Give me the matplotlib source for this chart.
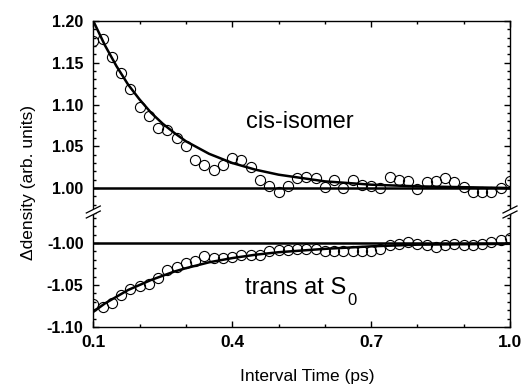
import matplotlib
matplotlib.use("Agg")
import matplotlib.pyplot as plt
from matplotlib.lines import Line2D
from matplotlib.patches import Polygon
from matplotlib.ticker import MultipleLocator, FixedLocator, FormatStrFormatter
from matplotlib.transforms import offset_copy

plt.rcParams['font.family'] = ['Liberation Sans', 'DejaVu Sans']

# ---- data ----
time_ps = [0.10, 0.12, 0.14, 0.16, 0.18, 0.20, 0.22, 0.24, 0.26, 0.28,
           0.30, 0.32, 0.34, 0.36, 0.38, 0.40, 0.42, 0.44, 0.46, 0.48,
           0.50, 0.52, 0.54, 0.56, 0.58, 0.60, 0.62, 0.64, 0.66, 0.68,
           0.70, 0.72, 0.74, 0.76, 0.78, 0.80, 0.82, 0.84, 0.86, 0.88,
           0.90, 0.92, 0.94, 0.96, 0.98, 1.00]

cis_density = [1.176, 1.178, 1.157, 1.138, 1.118, 1.097, 1.086, 1.072, 1.070, 1.060,
               1.050, 1.034, 1.027, 1.022, 1.028, 1.036, 1.033, 1.025, 1.010, 1.003,
               0.995, 1.002, 1.012, 1.013, 1.012, 1.001, 1.010, 1.000, 1.010, 1.004,
               1.003, 1.000, 1.013, 1.010, 1.009, 0.999, 1.007, 1.008, 1.012, 1.007,
               1.001, 0.995, 0.995, 0.995, 1.000, 1.008]

trans_density = [-1.073, -1.076, -1.071, -1.062, -1.055, -1.051, -1.049, -1.042, -1.032, -1.029,
                 -1.024, -1.022, -1.016, -1.018, -1.018, -1.017, -1.014, -1.014, -1.014, -1.010,
                 -1.008, -1.008, -1.007, -1.007, -1.007, -1.009, -1.010, -1.009, -1.009, -1.009,
                 -1.009, -1.007, -1.002, -1.001, -0.999, -1.001, -1.002, -1.005, -1.002, -1.001,
                 -1.002, -1.003, -1.001, -0.999, -0.997, -0.994]

fit_time = [0.100, 0.125, 0.150, 0.175, 0.200, 0.225, 0.250, 0.275, 0.300,
            0.350, 0.400, 0.450, 0.500, 0.600, 0.700, 0.800, 0.900, 1.000]
cis_fit = [1.200, 1.171, 1.146, 1.124, 1.106, 1.090, 1.077, 1.066, 1.056,
           1.041, 1.030, 1.022, 1.016, 1.008, 1.004, 1.002, 1.001, 1.000]
trans_fit = [-1.082, -1.072, -1.064, -1.056, -1.050, -1.044, -1.039, -1.034, -1.030,
             -1.023, -1.018, -1.014, -1.011, -1.007, -1.004, -1.002, -1.0015, -1.001]

ref_x = [0.1, 1.0]
cis_ref = [1.0, 1.0]
trans_ref = [-1.0, -1.0]

x_major = [0.1, 0.4, 0.7, 1.0]
x_labels = ['0.1', '0.4', '0.7', '1.0']

# ---- figure ----
W, H = 528, 388
fig = plt.figure(figsize=(W / 100, H / 100), dpi=100)

left, right = 93.3 / W, 510 / W
y_top, y_brk, y_bot = 21 / H, 215 / H, 327 / H
ax1 = fig.add_axes([left, 1 - y_brk, right - left, y_brk - y_top])
ax2 = fig.add_axes([left, 1 - y_bot, right - left, y_bot - y_brk])

mk = dict(marker='o', ms=7.3, mfc='none', mec='black', mew=0.8, ls='none', zorder=3)
ax1.plot(time_ps, cis_density, **mk)
ax1.plot(fit_time, cis_fit, color='black', lw=1.8, zorder=4)
ax1.plot(ref_x, cis_ref, color='black', lw=1.8, zorder=2)
ax2.plot(time_ps, trans_density, **mk)
ax2.plot(fit_time, trans_fit, color='black', lw=1.8, zorder=4)
ax2.plot(ref_x, trans_ref, color='black', lw=1.8, zorder=2)

ax1.set_ylim(0.9677, 1.20)
ax2.set_ylim(-1.10, -0.9667)
for ax in (ax1, ax2):
    ax.set_xlim(0.1, 1.0)
    ax.xaxis.set_major_locator(FixedLocator(x_major))
    ax.xaxis.set_minor_locator(MultipleLocator(0.1))
    ax.yaxis.set_major_locator(MultipleLocator(0.05))
    ax.yaxis.set_minor_locator(MultipleLocator(0.01))
    ax.yaxis.set_major_formatter(FormatStrFormatter('%.2f'))
    ax.tick_params(which='both', direction='in', left=True, right=True, width=1.0)
    ax.tick_params(which='major', length=4)
    ax.tick_params(which='minor', length=2.3)
    ax.tick_params(axis='y', labelsize=11.5, pad=7)
    for s in ax.spines.values():
        s.set_linewidth(1.0)

ax1.spines['bottom'].set_visible(False)
ax1.tick_params(axis='x', which='both', bottom=False, top=True, labelbottom=False)
ax2.spines['top'].set_visible(False)
ax2.tick_params(axis='x', which='both', bottom=True, top=False)
ax2.set_xticks(x_major)
ax2.set_xticklabels(x_labels, fontsize=12.5, fontweight='bold')
ax2.tick_params(axis='x', pad=6)

for ax in (ax1, ax2):
    for lab in ax.get_yticklabels():
        lab.set_fontweight('bold')
        lab.set_fontsize(11.5)

ax1.text(0.546, 1.072, 'cis-isomer', fontsize=17, ha='center', va='baseline')
t_main = ax2.text(0.427, -1.061, 'trans at S', fontsize=17, ha='left', va='baseline')

fig.canvas.draw()
bb = t_main.get_window_extent()
x_end_data = ax2.transData.inverted().transform((bb.x1, 0))[0]
sub_tr = offset_copy(ax2.transData, fig=fig, x=1.0, y=-8.0, units='points')
ax2.text(x_end_data, -1.061, '0', fontsize=12, ha='left', va='baseline', transform=sub_tr)

fig.text((228 + 386) / 2 / W, 1 - 377 / H, 'Interval Time (ps)', fontsize=12.5,
         ha='center', va='center')
fig.text(29 / W, 1 - 182 / H, '\u0394density (arb. units)', fontsize=12.5,
         ha='center', va='center', rotation=90)

# break marks
def px(x, y):
    return (x / W, 1 - y / H)

for cx in (93.3, 510):
    cy = 214
    gap = [px(cx - 7, cy + 4), px(cx + 7, cy - 3), px(cx + 7, cy - 8), px(cx - 7, cy - 1)]
    fig.add_artist(Polygon(gap, closed=True, facecolor='white', edgecolor='none',
                           transform=fig.transFigure, zorder=10))
    for off in (4, -1):
        x0, y0 = px(cx - 7, cy + off)
        x1, y1 = px(cx + 7, cy + off - 7)
        fig.add_artist(Line2D([x0, x1], [y0, y1], color='black', lw=0.9,
                              transform=fig.transFigure, zorder=11))

fig.savefig('out.png', dpi=100)
